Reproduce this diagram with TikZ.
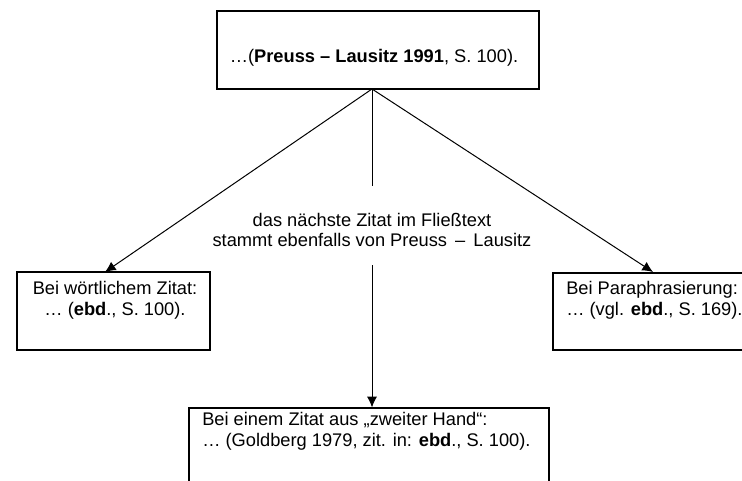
\documentclass[tikz,border=0pt]{standalone}
\usepackage{fontspec}
\setmainfont{Liberation Sans}
\usetikzlibrary{arrows.meta}
\begin{document}
\begin{tikzpicture}[x=0.75pt,y=-0.75pt,
  box/.style={draw=black, line width=0.9pt, rectangle, inner sep=0pt},
  txt/.style={font=\fontsize{13.7}{15.5}\selectfont, inner sep=0pt},
  con/.style={draw=black, line width=0.75pt},
  arr/.style={con, -{Latex[length=8pt,width=7.5pt]}}]
\useasboundingbox (0,0) rectangle (742,481);
\clip (0,0) rectangle (742,481);
% boxes
\node[box, minimum width=322*0.75pt, minimum height=78*0.75pt] (top) at (378,50) {};
\node[box, minimum width=193*0.75pt, minimum height=78*0.75pt] (left) at (113.5,311) {};
\node[box, minimum width=220*0.75pt, minimum height=77*0.75pt] (right) at (663,311.5) {};
\node[box, minimum width=360*0.75pt, minimum height=110*0.75pt] (bottom) at (369,463) {};
% texts
\node[txt] (toptext) at (374,58) {\ldots(\textbf{Preuss – Lausitz 1991}, S. 100).};
\node[txt, align=center] (lefttext) at (115,300) {Bei wörtlichem Zitat:\\ \ldots\ (\textbf{ebd}., S. 100).};
\node[txt, align=left, anchor=west] (righttext) at (566,300) {Bei Paraphrasierung:\\ \ldots\ (vgl. \textbf{ebd}., S. 169).};
\node[txt, align=left, anchor=north west] (bottomtext) at (202,412) {Bei einem Zitat aus „zweiter Hand“:\\ \ldots\ (Goldberg 1979, zit. in: \textbf{ebd}., S. 100).};
\node[txt, align=center] (mid) at (372,230) {das nächste Zitat im Fließtext\\ stammt ebenfalls von Preuss \,–\, Lausitz};
% connectors
\coordinate (apex) at (372,89);
\coordinate (midtop) at (372,186);
\coordinate (midbot) at (372,265);
\coordinate (ltip) at (105,272);
\coordinate (rtip) at (653,272);
\draw[con] (apex) -- (midtop);
\draw[arr] (midbot) -- (midbot |- bottom.north);
\draw[arr] (apex) -- (ltip);
\draw[arr] (apex) -- (rtip);
\end{tikzpicture}
\end{document}
